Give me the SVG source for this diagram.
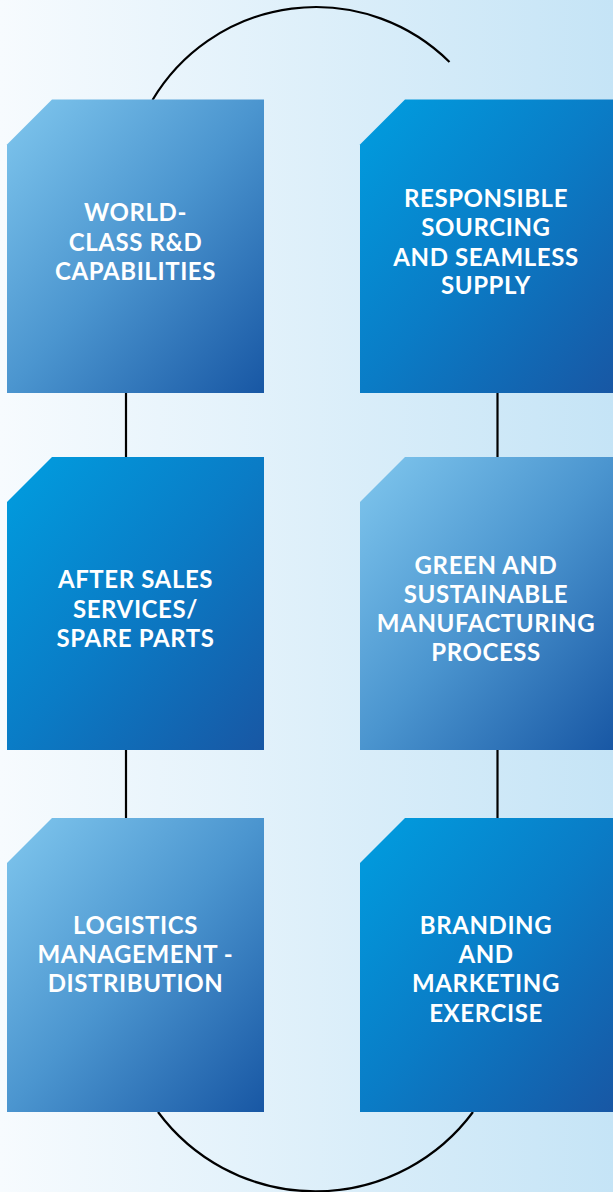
<svg xmlns="http://www.w3.org/2000/svg" width="613" height="1192" viewBox="0 0 613 1192">
<defs>
<linearGradient id="bg" x1="0" y1="0" x2="1" y2="0">
<stop offset="0" stop-color="#f7fbfe"/>
<stop offset="1" stop-color="#c5e4f6"/>
</linearGradient>
<linearGradient id="light" x1="0" y1="0" x2="1" y2="1">
<stop offset="0" stop-color="#80c7ee"/>
<stop offset="0.5" stop-color="#4b95cf"/>
<stop offset="1" stop-color="#1857a4"/>
</linearGradient>
<linearGradient id="bright" x1="0" y1="0" x2="1" y2="1">
<stop offset="0" stop-color="#009ee0"/>
<stop offset="0.5" stop-color="#0a7cc6"/>
<stop offset="1" stop-color="#1857a4"/>
</linearGradient>
</defs>
<style>
.conn{fill:none;stroke:#000;stroke-width:2.2}
.lt{fill:url(#light)}
.br{fill:url(#bright)}
.lbl{font-family:Lato,"Open Sans","Liberation Sans",sans-serif;font-weight:700;font-size:24px;letter-spacing:0.6px;fill:#fff;text-anchor:middle}
</style>
<rect x="0" y="0" width="613" height="1192" fill="url(#bg)"/>
<g id="connectors">
<path class="conn" d="M152.5,100 A190,190 0 0 1 449.5,62"/>
<path class="conn" d="M158,1112 A196,196 0 0 0 473,1112"/>
<line class="conn" x1="126" y1="393" x2="126" y2="457"/>
<line class="conn" x1="126" y1="750" x2="126" y2="818"/>
<line class="conn" x1="497.5" y1="393" x2="497.5" y2="457"/>
<line class="conn" x1="497.5" y1="750" x2="497.5" y2="818"/>
</g>
<g id="node-rd">
<path class="lt" d="M7,144.5 L52,99.5 L264,99.5 L264,393 L7,393 Z"/>
<text class="lbl" x="135.5" y="221">WORLD-</text>
<text class="lbl" x="135.5" y="250.5">CLASS R&amp;D</text>
<text class="lbl" x="135.5" y="280">CAPABILITIES</text>
</g>
<g id="node-sourcing">
<path class="br" d="M360,144.5 L405,99.5 L614,99.5 L614,393 L360,393 Z"/>
<text class="lbl" x="486" y="207">RESPONSIBLE</text>
<text class="lbl" x="486" y="236">SOURCING</text>
<text class="lbl" x="486" y="265.5">AND SEAMLESS</text>
<text class="lbl" x="486" y="294">SUPPLY</text>
</g>
<g id="node-aftersales">
<path class="br" d="M7,502 L52,457 L264,457 L264,750 L7,750 Z"/>
<text class="lbl" x="135.5" y="588">AFTER SALES</text>
<text class="lbl" x="135.5" y="617.5">SERVICES/</text>
<text class="lbl" x="135.5" y="646.5">SPARE PARTS</text>
</g>
<g id="node-green">
<path class="lt" d="M360,502 L405,457 L614,457 L614,750 L360,750 Z"/>
<text class="lbl" x="486" y="574">GREEN AND</text>
<text class="lbl" x="486" y="602.5">SUSTAINABLE</text>
<text class="lbl" x="486" y="631.5">MANUFACTURING</text>
<text class="lbl" x="486" y="661">PROCESS</text>
</g>
<g id="node-logistics">
<path class="lt" d="M7,863 L52,818 L264,818 L264,1112 L7,1112 Z"/>
<text class="lbl" x="135.5" y="934">LOGISTICS</text>
<text class="lbl" x="135.5" y="963">MANAGEMENT -</text>
<text class="lbl" x="135.5" y="991.5">DISTRIBUTION</text>
</g>
<g id="node-branding">
<path class="br" d="M360,863 L405,818 L614,818 L614,1112 L360,1112 Z"/>
<text class="lbl" x="486" y="934">BRANDING</text>
<text class="lbl" x="486" y="963">AND</text>
<text class="lbl" x="486" y="992">MARKETING</text>
<text class="lbl" x="486" y="1021.5">EXERCISE</text>
</g>
</svg>
